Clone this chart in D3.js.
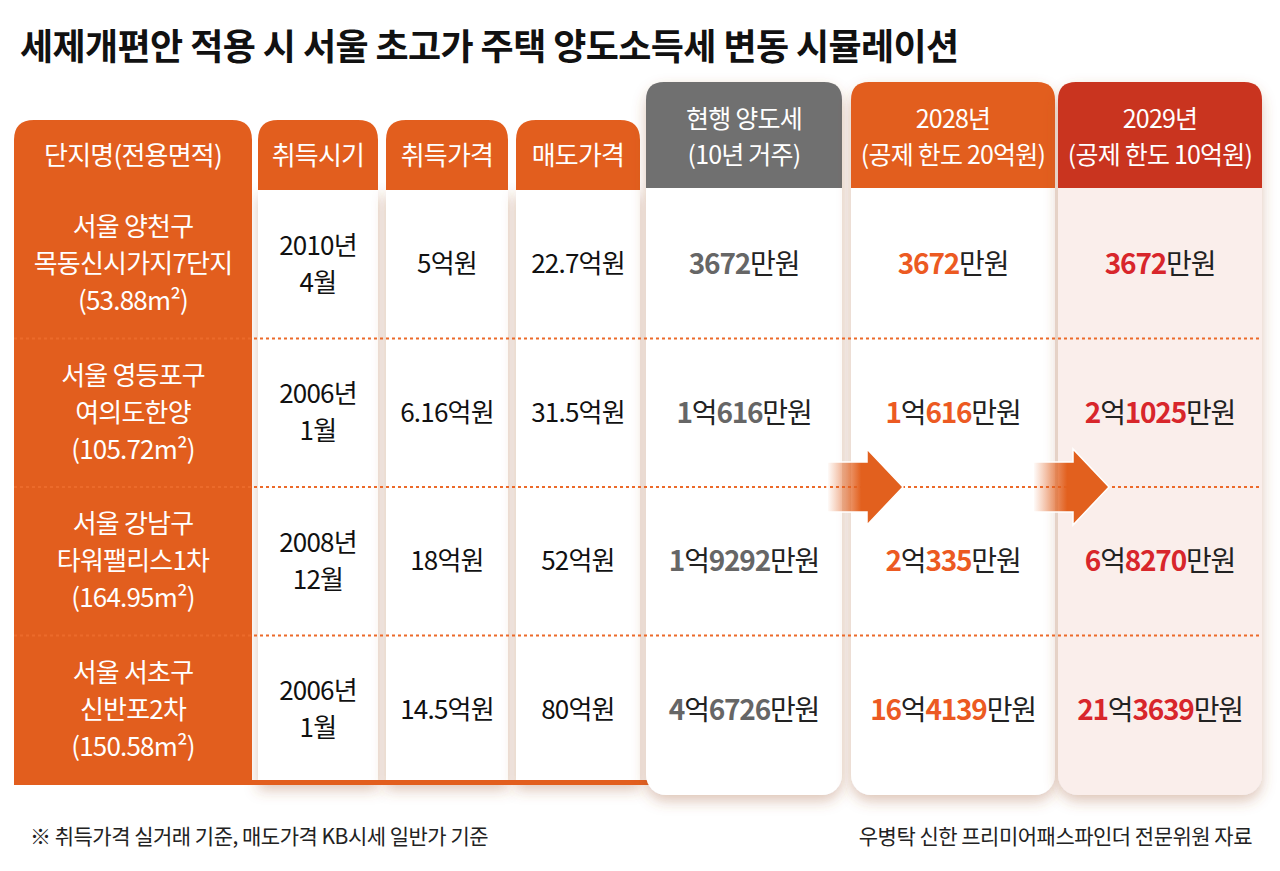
<!DOCTYPE html><html><head><meta charset="utf-8">
<script src="https://cdn.jsdelivr.net/npm/d3@7"></script>
<style>body{margin:0;background:#fff}text{font-family:"Noto Sans CJK KR",sans-serif}</style></head><body>
<svg id="c" width="1280" height="871"></svg>
<script>
const title="세제개편안 적용 시 서울 초고가 주택 양도소득세 변동 시뮬레이션";
const names=[["서울 양천구","목동신시가지7단지","(53.88m²)"],["서울 영등포구","여의도한양","(105.72m²)"],["서울 강남구","타워팰리스1차","(164.95m²)"],["서울 서초구","신반포2차","(150.58m²)"]];
const acqDate=[["2010년","4월"],["2006년","1월"],["2008년","12월"],["2006년","1월"]];
const acqPrice=["5억원","6.16억원","18억원","14.5억원"];
const salePrice=["22.7억원","31.5억원","52억원","80억원"];
const taxNow=[[null,3672],[1,616],[1,9292],[4,6726]];
const tax2028=[[null,3672],[1,616],[2,335],[16,4139]];
const tax2029=[[null,3672],[2,1025],[6,8270],[21,3639]];
const leftHeads=["단지명(전용면적)","취득시기","취득가격","매도가격"];
const cardHeads=[["현행 양도세","(10년 거주)"],["2028년","(공제 한도 20억원)"],["2029년","(공제 한도 10억원)"]];
const noteL="※ 취득가격 실거래 기준, 매도가격 KB시세 일반가 기준";
const noteR="우병탁 신한 프리미어패스파인더 전문위원 자료";

const svg=d3.select("#c");
const defs=svg.append("defs");
const f=defs.append("filter").attr("id","sh").attr("x","-20%").attr("y","-10%").attr("width","140%").attr("height","125%");
f.append("feDropShadow").attr("dx",0).attr("dy",6).attr("stdDeviation",7).attr("flood-color","#a05a30").attr("flood-opacity",0.35);
const g1=defs.append("linearGradient").attr("id","ag");
g1.append("stop").attr("offset","0").attr("stop-color","#e2601e").attr("stop-opacity",0);
g1.append("stop").attr("offset","0.45").attr("stop-color","#e2601e").attr("stop-opacity",1);

svg.append("text").attr("x",20).attr("y",60).attr("font-size",36).attr("font-weight",700).attr("letter-spacing",-0.6).attr("fill","#111").text(title);

const y=d3.scaleBand().domain(d3.range(4)).range([190,784]);
const ORANGE="#e25e1e";
const lcols=[[14,252],[258,378],[386,508],[516,640]];
lcols.slice(1).forEach(c=>svg.append("rect").attr("x",c[0]).attr("y",190).attr("width",c[1]-c[0]).attr("height",594).attr("fill","#fff").attr("filter","url(#sh)"));
svg.append("rect").attr("x",14).attr("y",190).attr("width",238).attr("height",594).attr("fill",ORANGE);
svg.append("rect").attr("x",14).attr("y",780).attr("width",640).attr("height",5).attr("fill",ORANGE);
function topRound(x,yy,w,h,r){return `M${x},${yy+h}V${yy+r}Q${x},${yy} ${x+r},${yy}H${x+w-r}Q${x+w},${yy} ${x+w},${yy+r}V${yy+h}Z`;}
leftHeads.forEach((h,i)=>{const c=lcols[i];
 svg.append("path").attr("d",topRound(c[0],120,c[1]-c[0],70,20)).attr("fill",ORANGE);
 svg.append("text").attr("x",(c[0]+c[1])/2).attr("y",165).attr("text-anchor","middle").attr("font-size",26).attr("letter-spacing",-0.8).attr("fill","#fff").text(h);
});
const cards=[{x:646,w:196,head:"#707070",body:"#fff",num:"#666"},{x:851,w:204,head:ORANGE,body:"#fff",num:"#ec5a22"},{x:1058,w:204,head:"#c9341f",body:"#faeeeb",num:"#d8262b"}];
cards.forEach((c,i)=>{
 svg.append("rect").attr("x",c.x).attr("y",82).attr("width",c.w).attr("height",713).attr("rx",20).attr("fill",c.body).attr("filter","url(#sh)");
 svg.append("path").attr("d",topRound(c.x,82,c.w,106,18)).attr("fill",c.head);
 cardHeads[i].forEach((t,k)=>svg.append("text").attr("x",c.x+c.w/2).attr("y",128+k*36).attr("text-anchor","middle").attr("font-size",25).attr("letter-spacing",-0.8).attr("fill","#fff").text(t));
});
d3.range(1,4).forEach(i=>svg.append("line").attr("x1",14).attr("x2",1262).attr("y1",y(i)).attr("y2",y(i)).attr("stroke","#ec6a2a").attr("stroke-width",2).attr("stroke-dasharray","3,3"));
[827,1033].forEach(ax=>{const cy=y(2);
 svg.append("path").attr("d",`M${ax},${cy-25}H${ax+40}V${cy-38}L${ax+76},${cy}L${ax+40},${cy+38}V${cy+25}H${ax}Z`).attr("fill","url(#ag)").attr("stroke","#fff").attr("stroke-width",1.5);
});
function lines(x,arr,i,fill,fs){const n=arr.length,lh=37,c=y(i)+y.bandwidth()/2;
 arr.forEach((t,k)=>svg.append("text").attr("x",x).attr("y",c+(k-(n-1)/2)*lh+9).attr("text-anchor","middle").attr("font-size",fs).attr("letter-spacing",-0.8).attr("fill",fill).text(t));}
d3.range(4).forEach(i=>{
 lines(133,names[i],i,"#fff",26);
 lines(318,acqDate[i],i,"#111",26);
 lines(447,[acqPrice[i]],i,"#111",26);
 lines(578,[salePrice[i]],i,"#111",26);
 [taxNow,tax2028,tax2029].forEach((arr,j)=>{const c=cards[j],v=arr[i];
  const t=svg.append("text").attr("x",c.x+c.w/2).attr("y",y(i)+y.bandwidth()/2+10).attr("text-anchor","middle").attr("font-size",28).attr("letter-spacing",-1.2);
  if(v[0]!==null){t.append("tspan").attr("fill",c.num).attr("font-weight",700).text(v[0]);t.append("tspan").attr("fill","#222").text("억");}
  t.append("tspan").attr("fill",c.num).attr("font-weight",700).text(v[1]);
  t.append("tspan").attr("fill","#222").text("만원");
 });
});
svg.append("text").attr("x",30).attr("y",844).attr("font-size",21).attr("letter-spacing",-0.5).attr("fill","#222").text(noteL);
svg.append("text").attr("x",1252).attr("y",844).attr("text-anchor","end").attr("font-size",21).attr("letter-spacing",-0.5).attr("fill","#222").text(noteR);
</script></body></html>
